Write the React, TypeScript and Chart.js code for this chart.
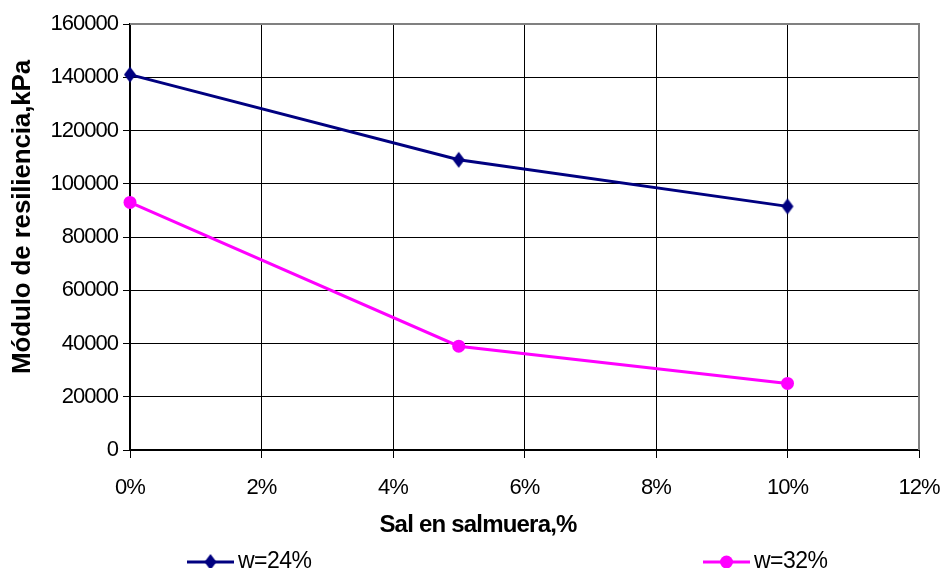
import React, { useEffect, useRef } from "react";
import { Chart, registerables } from "chart.js";

Chart.register(...registerables);

const saltPercent = [0, 5, 10];
const w24Values = [141000, 109000, 91500];
const w32Values = [93000, 39000, 25000];
const seriesLabels = ["w=24%", "w=32%"];
const xTitle = "Sal en salmuera,%";
const yTitle = "Módulo de resiliencia,kPa";
const yMin = 0;
const yMax = 160000;
const yStep = 20000;
const xMin = 0;
const xMax = 12;
const xStep = 2;

const NAVY = "#000080";
const MAGENTA = "#FF00FF";
const FONT = "'Liberation Sans', Arial, sans-serif";

function makeDiamond(color: string): HTMLCanvasElement {
  const c = document.createElement("canvas");
  c.width = 14;
  c.height = 18;
  const g = c.getContext("2d")!;
  g.fillStyle = color;
  g.beginPath();
  g.moveTo(7, 1);
  g.lineTo(13, 9);
  g.lineTo(7, 17);
  g.lineTo(1, 9);
  g.closePath();
  g.fill();
  return c;
}

export default function App() {
  const ref = useRef<HTMLCanvasElement | null>(null);

  useEffect(() => {
    if (!ref.current) return;
    const diamond = makeDiamond(NAVY);

    const customPlugin = {
      id: "customDecor",
      beforeLayout(chart: any) {
        chart.ctx.letterSpacing = "-1px";
      },
      beforeDraw(chart: any) {
        const ctx = chart.ctx;
        ctx.save();
        ctx.fillStyle = "#ffffff";
        ctx.fillRect(0, 0, chart.width, chart.height);
        ctx.restore();
        ctx.letterSpacing = "-1px";
      },
      beforeDatasetsDraw(chart: any) {
        const ctx = chart.ctx as CanvasRenderingContext2D;
        const area = chart.chartArea;
        ctx.save();
        ctx.strokeStyle = "#808080";
        ctx.lineWidth = 2;
        ctx.beginPath();
        ctx.moveTo(area.left, area.top);
        ctx.lineTo(area.right, area.top);
        ctx.lineTo(area.right, area.bottom);
        ctx.stroke();
        ctx.restore();
      },
      afterDraw(chart: any) {
        const ctx = chart.ctx as CanvasRenderingContext2D;
        ctx.save();
        // x title
        ctx.fillStyle = "#000";
        (ctx as any).letterSpacing = "-0.8px";
        ctx.font = `bold 24px ${FONT}`;
        ctx.textAlign = "center";
        ctx.textBaseline = "middle";
        ctx.fillText(xTitle, 478, 525);
        // y title
        (ctx as any).letterSpacing = "-0.15px";
        ctx.font = `bold 26px ${FONT}`;
        ctx.save();
        ctx.translate(23, 217);
        ctx.rotate(-Math.PI / 2);
        ctx.fillText(yTitle, 0, 0);
        ctx.restore();
        // legend
        (ctx as any).letterSpacing = "-0.5px";
        ctx.font = `23px ${FONT}`;
        ctx.textAlign = "left";
        const ly = 562;
        const items = [
          { x: 187, color: NAVY, label: seriesLabels[0], kind: "diamond" },
          { x: 703, color: MAGENTA, label: seriesLabels[1], kind: "circle" },
        ];
        for (const it of items) {
          ctx.strokeStyle = it.color;
          ctx.lineWidth = 3;
          ctx.beginPath();
          ctx.moveTo(it.x, ly);
          ctx.lineTo(it.x + 47, ly);
          ctx.stroke();
          const mx = it.x + 23.5;
          if (it.kind === "diamond") {
            ctx.drawImage(diamond, mx - 7, ly - 9);
          } else {
            ctx.fillStyle = it.color;
            ctx.beginPath();
            ctx.arc(mx, ly, 6.5, 0, Math.PI * 2);
            ctx.fill();
          }
          ctx.fillStyle = "#000";
          ctx.fillText(it.label, it.x + 51, ly);
        }
        ctx.restore();
        ctx.letterSpacing = "-1px";
      },
    };

    const chart = new Chart(ref.current, {
      type: "line",
      data: {
        datasets: [
          {
            label: seriesLabels[0],
            data: saltPercent.map((x, i) => ({ x, y: w24Values[i] })),
            borderColor: NAVY,
            backgroundColor: NAVY,
            borderWidth: 3,
            pointStyle: diamond as any,
            pointRadius: 8,
            tension: 0,
            clip: false as any,
          },
          {
            label: seriesLabels[1],
            data: saltPercent.map((x, i) => ({ x, y: w32Values[i] })),
            borderColor: MAGENTA,
            backgroundColor: MAGENTA,
            borderWidth: 3,
            pointStyle: "circle",
            pointRadius: 6.5,
            pointBorderWidth: 0,
            tension: 0,
            clip: false as any,
          },
        ],
      },
      options: {
        animation: false,
        responsive: false,
        devicePixelRatio: 1,
        layout: { padding: { top: 24, right: 26, bottom: 0, left: 0 } },
        plugins: {
          legend: { display: false },
          tooltip: { enabled: false },
        },
        scales: {
          x: {
            type: "linear",
            min: xMin,
            max: xMax,
            afterFit(scale: any) {
              scale.height = 118;
              scale.paddingLeft = 0;
              scale.paddingRight = 0;
            },
            ticks: {
              stepSize: xStep,
              padding: 17,
              color: "#000",
              font: { family: FONT, size: 22 },
              callback: (v: any) => `${v}%`,
              maxRotation: 0,
            },
            grid: {
              color: "#000",
              lineWidth: 1,
              tickLength: 8,
              tickColor: "#000",
            },
            border: { color: "#000", width: 2 },
          },
          y: {
            min: yMin,
            max: yMax,
            afterFit(scale: any) {
              scale.width = 130;
              scale.paddingTop = 0;
              scale.paddingBottom = 0;
            },
            ticks: {
              stepSize: yStep,
              padding: 5,
              color: "#000",
              font: { family: FONT, size: 22 },
              callback: (v: any) => String(v),
            },
            grid: {
              color: "#000",
              lineWidth: 1,
              tickLength: 7,
              tickColor: "#000",
            },
            border: { color: "#000", width: 2 },
          },
        },
      },
      plugins: [customPlugin],
    });
    return () => chart.destroy();
  }, []);

  return (
    <div style={{ position: "absolute", left: 0, top: 0, width: 945, height: 568 }}>
      <canvas ref={ref} width={945} height={568} style={{ display: "block" }} />
    </div>
  );
}
